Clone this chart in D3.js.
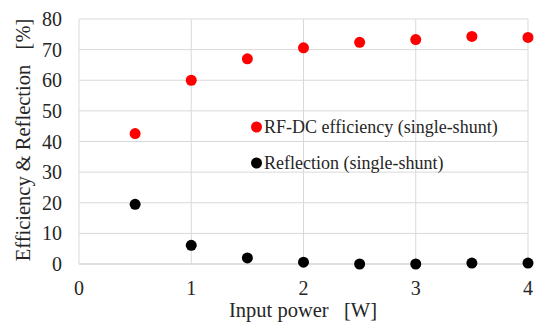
<!DOCTYPE html>
<html>
<head>
<meta charset="utf-8">
<script src="https://cdn.jsdelivr.net/npm/d3@7"></script>
<style>
  body { margin: 0; background: #fff; }
</style>
</head>
<body>
<svg id="chart"></svg>
<script>
// input power [W]
const power = [0.5, 1.0, 1.5, 2.0, 2.5, 3.0, 3.5, 4.0];
// RF-DC efficiency (single-shunt) [%]
const efficiency = [42.6, 60.0, 67.0, 70.6, 72.4, 73.3, 74.3, 74.0];
// Reflection (single-shunt) [%]
const reflection = [19.5, 6.1, 2.0, 0.6, 0.0, 0.0, 0.3, 0.3];
const xTicks = [0, 1, 2, 3, 4];
const yTicks = [0, 10, 20, 30, 40, 50, 60, 70, 80];
const seriesNames = ["RF-DC efficiency (single-shunt)", "Reflection (single-shunt)"];
const seriesColors = ["#ff0000", "#000000"];

const width = 536, height = 322;
const margin = {top: 19, right: 8, bottom: 58, left: 79};
const font = '"Liberation Serif"';

const svg = d3.select('#chart')
    .attr('width', width)
    .attr('height', height);

const x = d3.scaleLinear().domain([0, 4]).range([margin.left, width - margin.right]);
const y = d3.scaleLinear().domain([0, 80]).range([height - margin.bottom, margin.top]);

// gridlines
svg.append('g')
    .selectAll('line.h')
    .data(yTicks)
    .join('line')
    .attr('x1', x(0)).attr('x2', x(4))
    .attr('y1', d => y(d)).attr('y2', d => y(d))
    .attr('stroke', d => d === 0 ? '#bfbfbf' : '#d9d9d9')
    .attr('stroke-width', 1);

svg.append('g')
    .selectAll('line.v')
    .data(xTicks)
    .join('line')
    .attr('x1', d => x(d)).attr('x2', d => x(d))
    .attr('y1', y(0)).attr('y2', y(80))
    .attr('stroke', '#d9d9d9')
    .attr('stroke-width', 1);

// tick labels
svg.append('g')
    .selectAll('text')
    .data(yTicks)
    .join('text')
    .attr('x', 62)
    .attr('y', d => y(d))
    .attr('dy', '0.35em')
    .attr('text-anchor', 'end')
    .attr('fill', '#262626')
    .style('font-family', font)
    .style('font-size', '20px')
    .text(d => d);

svg.append('g')
    .selectAll('text')
    .data(xTicks)
    .join('text')
    .attr('x', d => x(d))
    .attr('y', 295)
    .attr('text-anchor', 'middle')
    .attr('fill', '#262626')
    .style('font-family', font)
    .style('font-size', '20px')
    .text(d => d);

// axis titles
svg.append('text')
    .attr('x', 303)
    .attr('y', 317)
    .attr('text-anchor', 'middle')
    .attr('fill', '#262626')
    .style('font-family', font)
    .style('font-size', '20.5px')
    .style('white-space', 'pre')
    .text('Input power   [W]');

svg.append('text')
    .attr('transform', 'translate(30,140) rotate(-90)')
    .attr('text-anchor', 'middle')
    .attr('fill', '#262626')
    .style('font-family', font)
    .style('font-size', '20.5px')
    .style('white-space', 'pre')
    .text('Efficiency & Reflection   [%]');

// points
const series = [efficiency, reflection];
series.forEach((vals, i) => {
  svg.append('g')
      .selectAll('circle')
      .data(vals)
      .join('circle')
      .attr('cx', (d, j) => x(power[j]))
      .attr('cy', d => y(d))
      .attr('r', 5.5)
      .attr('fill', seriesColors[i]);
});

// legend
const legend = svg.append('g');
seriesNames.forEach((name, i) => {
  const ly = 127 + i * 36;
  legend.append('circle')
      .attr('cx', 256.5)
      .attr('cy', ly)
      .attr('r', 5.5)
      .attr('fill', seriesColors[i]);
  legend.append('text')
      .attr('x', 264)
      .attr('y', ly)
      .attr('dy', '0.35em')
      .attr('fill', '#262626')
      .style('font-family', font)
      .style('font-size', '18px')
      .text(name);
});
</script>
</body>
</html>
